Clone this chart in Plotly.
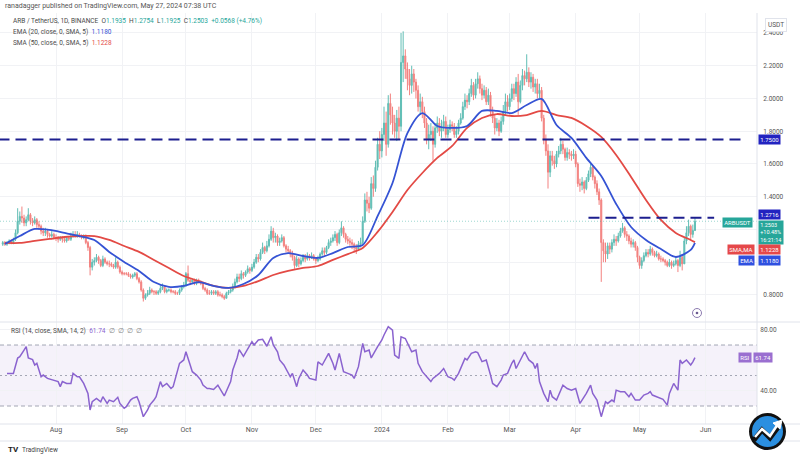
import plotly.graph_objects as go
import pandas as pd

# ---------------- DATA ----------------
first_open = 1.11
month_starts = ["2023-07-07", "2023-08-01", "2023-09-01", "2023-10-01", "2023-11-01",
                "2023-12-01", "2024-01-01", "2024-02-01", "2024-03-01", "2024-04-01", "2024-05-01"]

close_jul23 = [1.12, 1.11, 1.12, 1.13, 1.12, 1.14, 1.18, 1.25, 1.28, 1.27, 1.24, 1.26, 1.29, 1.25, 1.24, 1.26, 1.23, 1.22, 1.19, 1.18, 1.19, 1.17, 1.16, 1.17, 1.15]
high_jul23 = [1.13, 1.13, 1.13, 1.14, 1.14, 1.15, 1.20, 1.33, 1.31, 1.34, 1.29, 1.28, 1.33, 1.30, 1.27, 1.28, 1.27, 1.25, 1.23, 1.21, 1.21, 1.20, 1.18, 1.19, 1.18]
low_jul23 = [1.10, 1.10, 1.10, 1.11, 1.11, 1.11, 1.13, 1.17, 1.23, 1.24, 1.22, 1.22, 1.25, 1.23, 1.22, 1.23, 1.21, 1.20, 1.17, 1.16, 1.16, 1.15, 1.15, 1.15, 1.14]

close_aug23 = [1.15, 1.14, 1.15, 1.14, 1.13, 1.15, 1.14, 1.16, 1.17, 1.16, 1.17, 1.16, 1.15, 1.16, 1.12, 1.09, 0.97, 1.00, 1.01, 1.03, 1.01, 0.98, 1.02, 1.00, 0.99, 0.99, 0.98, 0.97, 1.00, 0.97, 0.94]
high_aug23 = [1.17, 1.16, 1.16, 1.16, 1.15, 1.16, 1.16, 1.18, 1.19, 1.19, 1.19, 1.18, 1.17, 1.17, 1.17, 1.13, 1.10, 1.02, 1.03, 1.05, 1.04, 1.02, 1.04, 1.03, 1.01, 1.01, 1.00, 0.99, 1.03, 1.01, 0.98]
low_aug23 = [1.13, 1.12, 1.13, 1.12, 1.12, 1.12, 1.13, 1.13, 1.15, 1.15, 1.15, 1.15, 1.14, 1.14, 1.11, 1.07, 0.92, 0.95, 0.98, 1.00, 0.99, 0.97, 0.97, 0.99, 0.98, 0.97, 0.97, 0.96, 0.96, 0.96, 0.93]

close_sep23 = [0.93, 0.93, 0.93, 0.92, 0.91, 0.92, 0.93, 0.90, 0.88, 0.83, 0.78, 0.80, 0.81, 0.83, 0.82, 0.82, 0.81, 0.82, 0.84, 0.85, 0.82, 0.83, 0.83, 0.82, 0.82, 0.81, 0.81, 0.83, 0.85, 0.86]
high_sep23 = [0.95, 0.94, 0.94, 0.94, 0.93, 0.93, 0.94, 0.94, 0.91, 0.89, 0.84, 0.81, 0.83, 0.85, 0.84, 0.83, 0.83, 0.83, 0.86, 0.87, 0.86, 0.84, 0.84, 0.84, 0.83, 0.83, 0.82, 0.84, 0.86, 0.88]
low_sep23 = [0.92, 0.92, 0.92, 0.91, 0.90, 0.90, 0.91, 0.89, 0.87, 0.82, 0.76, 0.77, 0.79, 0.80, 0.81, 0.80, 0.80, 0.80, 0.81, 0.83, 0.81, 0.81, 0.82, 0.81, 0.81, 0.80, 0.80, 0.80, 0.82, 0.84]

close_oct23 = [0.93, 0.89, 0.88, 0.89, 0.87, 0.89, 0.88, 0.87, 0.84, 0.83, 0.81, 0.81, 0.82, 0.81, 0.82, 0.80, 0.80, 0.79, 0.78, 0.81, 0.82, 0.83, 0.85, 0.88, 0.91, 0.90, 0.93, 0.92, 0.94, 0.96, 0.95]
high_oct23 = [0.94, 0.98, 0.90, 0.90, 0.90, 0.90, 0.90, 0.89, 0.88, 0.85, 0.84, 0.83, 0.83, 0.83, 0.83, 0.83, 0.82, 0.81, 0.80, 0.82, 0.83, 0.84, 0.87, 0.90, 0.93, 0.93, 0.95, 0.94, 0.95, 0.98, 0.97]
low_oct23 = [0.85, 0.88, 0.86, 0.87, 0.86, 0.86, 0.87, 0.86, 0.83, 0.82, 0.80, 0.80, 0.80, 0.80, 0.80, 0.79, 0.79, 0.78, 0.77, 0.78, 0.80, 0.81, 0.82, 0.84, 0.87, 0.88, 0.89, 0.90, 0.91, 0.93, 0.93]

close_nov23 = [0.97, 1.00, 1.03, 1.02, 1.06, 1.09, 1.07, 1.10, 1.14, 1.19, 1.15, 1.16, 1.12, 1.13, 1.15, 1.10, 1.08, 1.07, 1.05, 1.03, 0.98, 1.02, 0.99, 1.01, 1.03, 1.02, 1.04, 1.03, 1.04, 1.02]
high_nov23 = [0.99, 1.02, 1.05, 1.05, 1.08, 1.12, 1.10, 1.13, 1.17, 1.22, 1.21, 1.18, 1.17, 1.15, 1.17, 1.16, 1.11, 1.10, 1.08, 1.07, 1.04, 1.04, 1.03, 1.03, 1.05, 1.05, 1.06, 1.05, 1.06, 1.05]
low_nov23 = [0.94, 0.96, 0.99, 1.00, 1.01, 1.05, 1.05, 1.06, 1.09, 1.13, 1.12, 1.12, 1.10, 1.10, 1.12, 1.09, 1.06, 1.05, 1.03, 1.01, 0.96, 0.97, 0.97, 0.98, 1.00, 1.00, 1.01, 1.01, 1.02, 1.01]

close_dec23 = [1.01, 1.02, 1.05, 1.07, 1.06, 1.09, 1.12, 1.13, 1.15, 1.17, 1.12, 1.18, 1.21, 1.17, 1.14, 1.13, 1.12, 1.11, 1.09, 1.08, 1.11, 1.12, 1.25, 1.38, 1.36, 1.33, 1.48, 1.45, 1.58, 1.72, 1.68]
high_dec23 = [1.03, 1.04, 1.06, 1.09, 1.09, 1.10, 1.14, 1.15, 1.17, 1.19, 1.18, 1.20, 1.25, 1.22, 1.18, 1.16, 1.15, 1.14, 1.12, 1.11, 1.13, 1.15, 1.28, 1.42, 1.43, 1.40, 1.52, 1.53, 1.62, 1.76, 1.80]
low_dec23 = [0.99, 1.00, 1.01, 1.04, 1.04, 1.05, 1.08, 1.10, 1.12, 1.13, 1.10, 1.11, 1.16, 1.15, 1.12, 1.11, 1.10, 1.08, 1.06, 1.05, 1.07, 1.09, 1.11, 1.24, 1.31, 1.30, 1.32, 1.40, 1.43, 1.56, 1.63]

close_jan24 = [1.78, 1.85, 1.72, 1.97, 1.90, 1.85, 1.80, 1.88, 1.83, 2.22, 2.26, 2.18, 2.12, 2.08, 2.15, 2.10, 2.05, 1.95, 1.98, 1.92, 1.85, 1.75, 1.78, 1.80, 1.72, 1.82, 1.85, 1.80, 1.82, 1.86, 1.78]
high_jan24 = [1.82, 1.95, 1.92, 2.02, 2.03, 1.95, 1.90, 1.93, 1.95, 2.40, 2.41, 2.30, 2.22, 2.18, 2.20, 2.18, 2.12, 2.08, 2.03, 2.01, 1.95, 1.88, 1.84, 1.85, 1.83, 1.85, 1.89, 1.88, 1.87, 1.90, 1.89]
low_jan24 = [1.64, 1.74, 1.65, 1.70, 1.84, 1.78, 1.76, 1.74, 1.75, 1.80, 2.10, 2.12, 2.05, 2.02, 2.03, 2.04, 2.00, 1.92, 1.90, 1.88, 1.82, 1.72, 1.69, 1.74, 1.62, 1.70, 1.79, 1.77, 1.76, 1.80, 1.76]

close_feb24 = [1.81, 1.84, 1.83, 1.78, 1.80, 1.85, 1.88, 1.95, 1.99, 1.98, 2.03, 2.08, 2.02, 2.09, 2.12, 2.06, 2.02, 2.05, 1.98, 2.02, 1.92, 1.88, 1.82, 1.85, 1.80, 1.86, 1.92, 1.98, 1.95]
high_feb24 = [1.84, 1.87, 1.86, 1.85, 1.83, 1.87, 1.91, 1.98, 2.03, 2.02, 2.06, 2.12, 2.10, 2.12, 2.16, 2.14, 2.09, 2.08, 2.07, 2.06, 2.04, 1.95, 1.90, 1.88, 1.87, 1.89, 1.96, 2.03, 2.02]
low_feb24 = [1.76, 1.79, 1.80, 1.76, 1.76, 1.78, 1.84, 1.87, 1.93, 1.94, 1.96, 2.01, 1.99, 2.00, 2.06, 2.03, 1.99, 2.00, 1.96, 1.96, 1.89, 1.85, 1.78, 1.80, 1.77, 1.79, 1.84, 1.90, 1.92]

close_mar24 = [2.00, 2.06, 2.03, 2.10, 1.98, 2.08, 2.14, 2.12, 2.16, 2.10, 2.13, 2.07, 2.09, 2.03, 2.05, 1.88, 1.75, 1.68, 1.55, 1.65, 1.62, 1.60, 1.66, 1.68, 1.72, 1.69, 1.64, 1.67, 1.66, 1.65, 1.66]
high_mar24 = [2.03, 2.09, 2.09, 2.13, 2.15, 2.11, 2.18, 2.17, 2.27, 2.19, 2.16, 2.15, 2.12, 2.12, 2.09, 2.07, 1.90, 1.78, 1.72, 1.68, 1.68, 1.65, 1.68, 1.71, 1.76, 1.74, 1.70, 1.70, 1.69, 1.68, 1.69]
low_mar24 = [1.93, 1.98, 1.99, 2.01, 1.90, 1.97, 2.05, 2.08, 2.10, 2.07, 2.06, 2.04, 2.03, 2.00, 2.00, 1.86, 1.72, 1.65, 1.45, 1.52, 1.59, 1.57, 1.58, 1.64, 1.66, 1.66, 1.62, 1.62, 1.63, 1.62, 1.63]

close_apr24 = [1.60, 1.48, 1.47, 1.49, 1.45, 1.50, 1.54, 1.58, 1.52, 1.48, 1.43, 1.38, 1.12, 1.07, 1.05, 1.10, 1.08, 1.12, 1.14, 1.13, 1.16, 1.19, 1.21, 1.17, 1.16, 1.13, 1.11, 1.12, 1.09, 1.03]
high_apr24 = [1.68, 1.61, 1.51, 1.52, 1.50, 1.52, 1.56, 1.60, 1.59, 1.53, 1.50, 1.45, 1.39, 1.14, 1.12, 1.12, 1.12, 1.14, 1.17, 1.16, 1.18, 1.21, 1.24, 1.22, 1.19, 1.17, 1.15, 1.14, 1.13, 1.10]
low_apr24 = [1.58, 1.46, 1.43, 1.44, 1.42, 1.44, 1.49, 1.52, 1.50, 1.45, 1.41, 1.35, 0.88, 1.00, 1.00, 1.02, 1.05, 1.06, 1.10, 1.10, 1.12, 1.15, 1.18, 1.15, 1.13, 1.11, 1.09, 1.09, 1.07, 1.00]

close_may24 = [0.98, 1.01, 1.04, 1.06, 1.05, 1.08, 1.06, 1.04, 1.05, 1.02, 1.02, 1.01, 1.00, 0.98, 1.00, 0.98, 0.99, 1.01, 0.98, 1.03, 0.99, 1.13, 1.18, 1.22, 1.17, 1.1935, 1.2503]
high_may24 = [1.04, 1.03, 1.06, 1.08, 1.08, 1.10, 1.09, 1.07, 1.07, 1.06, 1.04, 1.03, 1.02, 1.01, 1.02, 1.01, 1.01, 1.03, 1.02, 1.07, 1.05, 1.15, 1.22, 1.26, 1.23, 1.23, 1.2754]
low_may24 = [0.96, 0.96, 1.00, 1.03, 1.03, 1.04, 1.04, 1.03, 1.03, 1.01, 1.00, 1.00, 0.98, 0.97, 0.97, 0.96, 0.97, 0.98, 0.94, 0.97, 0.95, 0.99, 1.11, 1.16, 1.14, 1.15, 1.1925]

ma_start = "2023-07-08"
ema20 = [1.111, 1.160, 1.203, 1.197, 1.179, 1.160, 1.136, 1.063, 1.002, 0.947, 0.879, 0.849,
         0.855, 0.879, 0.855, 0.843, 0.867, 0.922, 1.026, 1.056, 1.038, 1.026, 1.056, 1.093,
         1.105, 1.282, 1.484, 1.789, 1.911, 1.832, 1.820, 1.832, 1.924, 1.924, 1.911, 1.960,
         1.997, 1.838, 1.759, 1.637, 1.527, 1.356, 1.215, 1.136, 1.081, 1.032, 1.075]
sma50 = [1.118, 1.118, 1.130, 1.142, 1.154, 1.160, 1.160, 1.136, 1.099, 1.063, 1.014, 0.965,
         0.916, 0.885, 0.855, 0.843, 0.855, 0.885, 0.922, 0.947, 0.965, 0.977, 1.014, 1.050,
         1.087, 1.185, 1.307, 1.441, 1.545, 1.637, 1.710, 1.820, 1.881, 1.905, 1.893, 1.899,
         1.924, 1.899, 1.881, 1.832, 1.765, 1.655, 1.521, 1.380, 1.258, 1.179, 1.136]
ema_last, sma_last = 1.1180, 1.1228

# RSI samples: day index from 2023-07-07 and value
rsi_day = [2,5,7,8,10,11,12,14,15,16,18,19,21,24,26,27,28,30,32,33,35,36,38,40,41,42,44,46,47,49,
           50,52,54,55,57,58,60,61,63,64,66,68,69,71,72,74,75,77,79,80,83,85,86,88,89,91,93,94,96,97,
           99,101,103,104,107,108,110,111,113,115,116,117,118,120,122,124,126,127,129,130,132,134,135,136,138,139,141,143,144,147,
           148,150,153,155,156,158,160,162,164,165,167,169,170,172,173,176,178,179,181,183,184,186,187,189,190,192,194,195,197,199,
           201,202,204,205,207,209,211,212,214,216,217,218,220,222,223,225,227,229,230,232,234,235,237,239,240,241,243,245,247,249,
           250,251,252,254,256,257,258,260,263,265,267,269,271,272,274,276,277,279,281,283,284,286,287,288,290,292,294,295,297,299,
           301,303,304,305,307,309,310,312,313,315,317,318,319,321,323,324,325]
rsi_val = [51.4,51.4,61.5,62.3,66.7,68.9,61.5,60.4,56.9,58.0,49.2,50.3,48.1,47.0,46.0,42.7,46.0,44.8,44.8,51.4,
           49.2,49.2,44.8,38.3,27.4,32.8,35.0,32.8,36.1,31.7,33.9,32.8,35.7,31.7,28.5,29.6,33.9,35.0,36.1,32.8,
           23.0,27.4,30.6,33.9,36.1,46.0,42.7,44.8,41.5,42.7,58.0,60.2,65.6,56.9,52.5,50.3,47.0,43.7,41.5,41.5,
           40.8,43.7,38.3,36.6,46.0,53.6,61.5,67.0,62.6,67.0,69.2,72.2,70.0,73.3,73.7,69.2,75.4,70.0,65.6,60.2,
           56.9,51.4,49.2,51.4,42.7,48.1,53.6,50.3,48.1,47.0,59.0,56.9,64.5,58.0,53.6,64.5,52.5,51.4,50.3,48.1,
           55.8,71.1,65.6,66.7,61.5,68.9,73.3,76.6,82.0,79.8,63.4,61.2,75.4,74.3,71.1,65.6,66.7,58.0,52.5,49.2,
           46.0,48.1,50.3,51.4,54.6,49.2,48.1,47.0,51.4,58.0,61.2,60.2,64.5,65.6,65.0,59.1,60.2,50.3,44.8,42.7,
           47.0,50.3,51.4,58.0,60.2,54.6,60.2,65.6,60.2,58.0,54.6,58.0,46.0,38.3,32.8,40.4,36.1,33.9,43.7,41.5,
           40.4,41.5,31.7,33.9,38.3,43.7,38.3,33.9,23.0,32.8,31.7,33.9,32.8,40.4,39.4,39.4,36.1,38.3,33.9,33.9,
           37.2,38.3,39.4,37.2,36.1,35.0,34.4,30.6,38.3,44.8,40.4,60.2,58.0,60.2,56.9,59.0,61.74]

price_ticks = [0.8, 1.0, 1.2, 1.4, 1.6, 1.8, 2.0, 2.2, 2.4]
price_hidden = [1.0, 1.2]          # covered by the price tags on the scale
rsi_ticks = [40, 80]
month_ticks = ["2023-08-01", "2023-09-01", "2023-10-01", "2023-11-01", "2023-12-01", "2024-01-01",
               "2024-02-01", "2024-03-01", "2024-04-01", "2024-05-01", "2024-06-01"]
month_text = ["Aug", "Sep", "Oct", "Nov", "Dec", "2024", "Feb", "Mar", "Apr", "May", "Jun"]
level_hi, level_lo = 1.75, 1.2716
last_close = 1.2503

# ---------------- BUILD ----------------
closes_m = [close_jul23, close_aug23, close_sep23, close_oct23, close_nov23, close_dec23,
            close_jan24, close_feb24, close_mar24, close_apr24, close_may24]
highs_m = [high_jul23, high_aug23, high_sep23, high_oct23, high_nov23, high_dec23,
           high_jan24, high_feb24, high_mar24, high_apr24, high_may24]
lows_m = [low_jul23, low_aug23, low_sep23, low_oct23, low_nov23, low_dec23,
          low_jan24, low_feb24, low_mar24, low_apr24, low_may24]

dates, closes, highs, lows = [], [], [], []
for s, c, h, l in zip(month_starts, closes_m, highs_m, lows_m):
    dates += list(pd.date_range(s, periods=len(c), freq="D"))
    closes += c
    highs += h
    lows += l
opens = [first_open] + closes[:-1]
highs = [max(h, o, c) for h, o, c in zip(highs, opens, closes)]
lows = [min(l, o, c) for l, o, c in zip(lows, opens, closes)]

ma_dates = list(pd.date_range(ma_start, periods=len(ema20), freq="7D")) + [dates[-1]]
ema_y = ema20 + [ema_last]
sma_y = sma50 + [sma_last]
rsi_x = [pd.Timestamp("2023-07-07") + pd.Timedelta(days=d) for d in rsi_day]

GREEN, RED = "#26a69a", "#ef5350"
EMA_C, SMA_C = "#3553d4", "#e34a45"
NAVY = "#1d1f8f"
PURPLE = "#8a63cf"
TXT = "#4a4a4a"

PLOT_R, TOP, BOT, SEP = 757, 13, 424, 322
def px(x):
    return x / PLOT_R
def py(y):
    return (BOT - y) / (BOT - TOP)

fig = go.Figure()
fig.add_trace(go.Candlestick(
    x=dates, open=opens, high=highs, low=lows, close=closes,
    increasing=dict(line=dict(color=GREEN, width=1), fillcolor=GREEN),
    decreasing=dict(line=dict(color=RED, width=1), fillcolor=RED),
    whiskerwidth=0, opacity=0.72, xaxis="x", yaxis="y", hoverinfo="skip"))
fig.add_trace(go.Scatter(x=ma_dates, y=sma_y, mode="lines",
                         line=dict(color=SMA_C, width=1.8, shape="spline", smoothing=0.8),
                         xaxis="x", yaxis="y", hoverinfo="skip"))
fig.add_trace(go.Scatter(x=ma_dates, y=ema_y, mode="lines",
                         line=dict(color=EMA_C, width=1.8, shape="spline", smoothing=0.8),
                         xaxis="x", yaxis="y", hoverinfo="skip"))
fig.add_trace(go.Scatter(x=rsi_x, y=rsi_val, mode="lines",
                         line=dict(color=PURPLE, width=1.5),
                         xaxis="x2", yaxis="y2", hoverinfo="skip"))

x_range = ["2023-07-05 17:00", "2024-06-25 03:00"]
split = py(SEP)
common_x = dict(range=x_range, tickvals=month_ticks, ticktext=month_text, showgrid=True,
                gridcolor="#f1f2f5", gridwidth=1, zeroline=False, showline=False, ticks="",
                rangeslider=dict(visible=False))
fig.update_layout(
    width=800, height=460, margin=dict(l=0, r=43, t=TOP, b=460 - BOT),
    paper_bgcolor="white", plot_bgcolor="white", showlegend=False,
    font=dict(family="Roboto, Arial, sans-serif", color=TXT),
    xaxis=dict(**common_x, domain=[0, 1], anchor="y", showticklabels=False, matches="x2"),
    xaxis2=dict(**common_x, domain=[0, 1], anchor="y2", showticklabels=True,
                tickfont=dict(size=7, color="#555")),
    yaxis=dict(domain=[split, 1], range=[0.635, 2.522], side="right", tickvals=price_ticks,
               ticktext=["" if v in price_hidden else f"{v:.4f}" for v in price_ticks],
               showgrid=True, gridcolor="#f1f2f5",
               zeroline=False, ticks="outside", ticklen=4, tickcolor="rgba(0,0,0,0)",
               tickfont=dict(size=6.5, color="#555"), anchor="x"),
    yaxis2=dict(domain=[0, split], range=[18.2, 85.1], side="right", tickvals=rsi_ticks,
                ticktext=[f"{v:.2f}" for v in rsi_ticks], showgrid=True, gridcolor="#f1f2f5",
                zeroline=False, ticks="outside", ticklen=1, tickcolor="rgba(0,0,0,0)",
                tickfont=dict(size=6.5, color="#555"), anchor="x2"),
)

shapes = []
# RSI band and guide lines
shapes.append(dict(type="rect", xref="paper", yref="y2", x0=0, x1=1, y0=30, y1=70,
                   fillcolor="rgba(126,87,194,0.08)", line=dict(width=0), layer="below"))
for lv, dsh in [(70, "4px,3px"), (30, "4px,3px"), (50, "2px,3px")]:
    shapes.append(dict(type="line", xref="paper", yref="y2", x0=0, x1=1, y0=lv, y1=lv,
                       line=dict(color="#a3a6b4", width=1, dash=dsh), layer="below"))
# last price dotted line
shapes.append(dict(type="line", xref="paper", yref="y", x0=0, x1=1, y0=last_close, y1=last_close,
                   line=dict(color="rgba(38,166,154,0.45)", width=1, dash="1px,2px")))
# horizontal levels
shapes.append(dict(type="line", xref="x", yref="y", x0="2023-07-05", x1="2024-06-19",
                   y0=level_hi, y1=level_hi, line=dict(color=NAVY, width=2, dash="11px,6px")))
shapes.append(dict(type="line", xref="x", yref="y", x0="2024-04-07", x1="2024-06-05",
                   y0=level_lo, y1=level_lo, line=dict(color=NAVY, width=2, dash="11px,6px")))
# separators
def hline(y, x0=0, x1=800):
    shapes.append(dict(type="line", xref="paper", yref="paper", x0=px(x0), x1=px(x1),
                       y0=py(y), y1=py(y), line=dict(color="#e0e3eb", width=1)))
hline(SEP)
hline(BOT)
hline(441)
shapes.append(dict(type="line", xref="paper", yref="paper", x0=px(PLOT_R), x1=px(PLOT_R),
                   y0=py(TOP), y1=py(441), line=dict(color="#e0e3eb", width=1)))
# small eye icon
shapes.append(dict(type="circle", xref="paper", yref="paper", x0=px(692.5), x1=px(701.5),
                   y0=py(317.5), y1=py(308.5), line=dict(color="#8c7bb0", width=1)))
shapes.append(dict(type="circle", xref="paper", yref="paper", x0=px(695.7), x1=px(698.3),
                   y0=py(314.3), y1=py(311.7), fillcolor="#6b5a90", line=dict(width=0)))
# watermark logo bottom-right
shapes.append(dict(type="circle", xref="paper", yref="paper", x0=px(749), x1=px(786),
                   y0=py(450), y1=py(413), fillcolor="#111", line=dict(width=0)))
shapes.append(dict(type="circle", xref="paper", yref="paper", x0=px(752), x1=px(783),
                   y0=py(447), y1=py(416), fillcolor="#2b8fe0", line=dict(width=0)))
def ppath(pts):
    return "M " + " L ".join(f"{px(a)},{py(b)}" for a, b in pts)
shapes.append(dict(type="path", xref="paper", yref="paper",
                   path=ppath([(754, 440), (762, 430), (770, 438), (779, 426)]),
                   line=dict(color="#111", width=5)))
shapes.append(dict(type="path", xref="paper", yref="paper",
                   path=ppath([(755, 437), (762, 429), (770, 436), (778, 424)]),
                   line=dict(color="white", width=2.5)))
shapes.append(dict(type="path", xref="paper", yref="paper",
                   path=ppath([(782, 420), (773, 423), (780, 429)]) + " Z",
                   fillcolor="white", line=dict(color="white", width=1)))
fig.update_layout(shapes=shapes)

ann = []
def text(t, x, y, size=7, color=TXT, xanchor="left"):
    ann.append(dict(text=t, xref="paper", yref="paper", x=px(x), y=py(y), showarrow=False,
                    xanchor=xanchor, yanchor="middle", font=dict(size=size, color=color)))
text("ranadagger published on TradingView.com, May 27, 2024 07:38 UTC", 3, 6.5, size=7, color="#555")
g = f"color:{GREEN}"
text(f"ARB / TetherUS, 1D, BINANCE  O<span style='{g}'>1.1935</span>  H<span style='{g}'>1.2754</span>"
     f"  L<span style='{g}'>1.1925</span>  C<span style='{g}'>1.2503</span>  <span style='{g}'>+0.0568 (+4.76%)</span>",
     11, 21, size=6.5)
text(f"EMA (20, close, 0, SMA, 5)  <span style='color:{EMA_C}'>1.1180</span>", 11, 32, size=6.5)
text(f"SMA (50, close, 0, SMA, 5)  <span style='color:{SMA_C}'>1.1228</span>", 11, 43, size=6.5)
text(f"RSI (14, close, SMA, 14, 2)  <span style='color:{PURPLE}'>61.74</span>  "
     f"<span style='color:#888'>∅  ∅  ∅  ∅</span>", 9, 330.5, size=6.5)
text("<b>TV</b>", 6, 450, size=8, color="#222")
text("TradingView", 20, 450, size=6.5, color="#444")

def tag(t, x, y, bg, yref="y", yshift=0, size=6, xanchor="left", yanchor="middle"):
    ann.append(dict(text=t, xref="paper", yref=yref, x=px(x), y=y, showarrow=False,
                    xanchor=xanchor, yanchor=yanchor, yshift=yshift, bgcolor=bg, borderpad=1.2,
                    font=dict(size=size, color="white"), align="left"))
ann.append(dict(text="USDT", xref="paper", yref="paper", x=px(776), y=py(25), showarrow=False,
                xanchor="center", yanchor="middle", bgcolor="white", bordercolor="#e0e3eb",
                borderwidth=1, borderpad=2, font=dict(size=6.5, color="#555")))
tag("1.7500", 758, level_hi, "#2223c0")
tag("1.2716", 758, level_lo, "#2223c0", yshift=3.5)
tag("ARBUSDT", 753, last_close, GREEN, yshift=-1, xanchor="right")
tag("1.2503<br>+10.48%<br>16:21:14", 758, last_close, GREEN, yshift=1.5, yanchor="top", size=5.5)
tag("SMA,MA", 755, sma_last, "#e5484a", yshift=-7.5, xanchor="right")
tag("1.1228", 758, sma_last, "#e5484a", yshift=-7.5)
tag("EMA", 755, ema_last, "#2f50e0", yshift=-17.5, xanchor="right")
tag("1.1180", 758, ema_last, "#2f50e0", yshift=-17.5)
tag("RSI", 752, rsi_val[-1], "#9a6fd0", yref="y2", xanchor="right")
tag("61.74", 753, rsi_val[-1], "#9a6fd0", yref="y2")
fig.update_layout(annotations=ann)

fig.write_html("out.html")
